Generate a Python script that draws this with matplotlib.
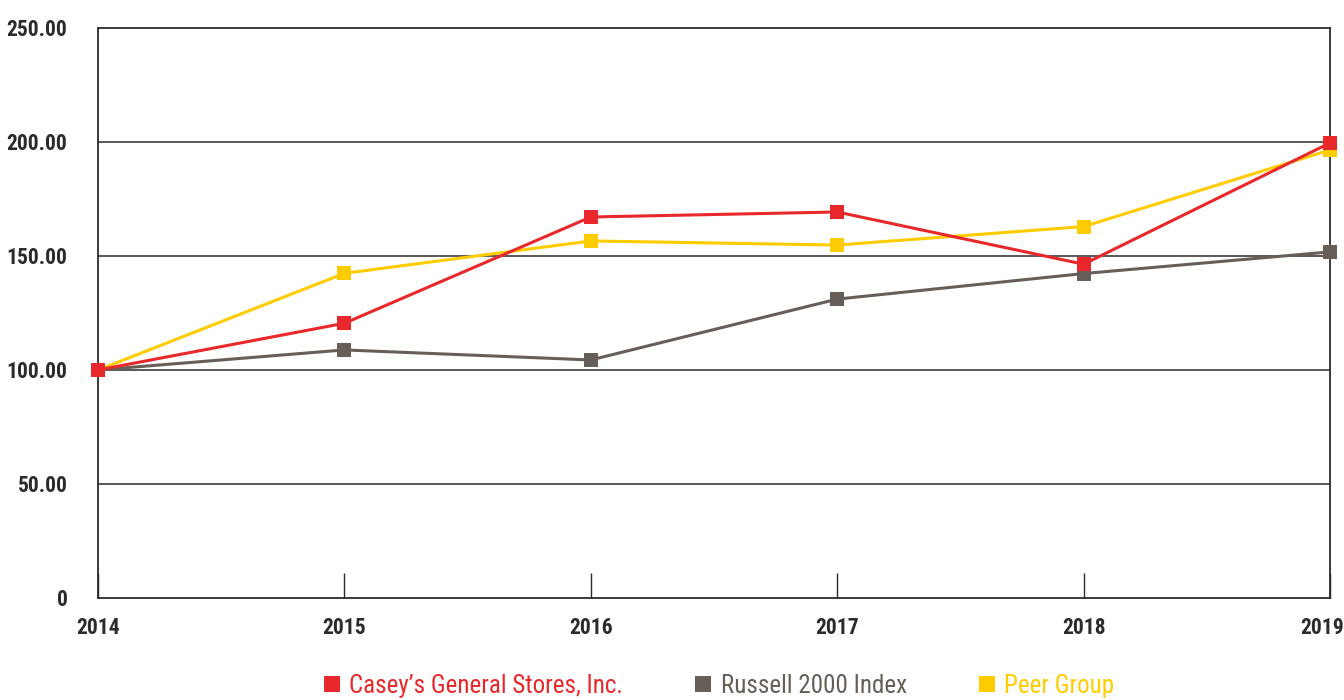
import matplotlib.pyplot as plt
from matplotlib import font_manager
from matplotlib.lines import Line2D
from matplotlib.transforms import ScaledTranslation

years = [2014, 2015, 2016, 2017, 2018, 2019]
caseys = [100.00, 120.5, 167.1, 169.3, 146.4, 199.6]
russell = [100.00, 108.8, 104.4, 131.1, 142.3, 151.8]
peer = [100.00, 142.4, 156.6, 154.8, 162.9, 196.5]

y_ticks = [0, 50, 100, 150, 200, 250]
y_labels = ['0', '50.00', '100.00', '150.00', '200.00', '250.00']

RED = '#E8282B'
GRAY = '#675F57'
YELLOW = '#FFCC00'
DARK = '#2B2B2B'

# prefer a narrow face if one is around
available = {f.name for f in font_manager.fontManager.ttflist}
narrow = [n for n in ('Liberation Sans Narrow', 'Roboto Condensed', 'DejaVu Sans')
          if n in available]
plt.rcParams['font.family'] = narrow
plt.rcParams['font.stretch'] = 'condensed'

fig = plt.figure(figsize=(13.44, 7), dpi=100)
ax = fig.add_axes([98 / 1344, 1 - 598 / 700, (1330 - 98) / 1344, (598 - 28) / 700])

for vals, col, z in [(russell, GRAY, 3), (peer, YELLOW, 4), (caseys, RED, 5)]:
    ax.plot(years, vals, color=col, lw=2.2, marker='s', ms=9.5,
            markeredgewidth=0, zorder=z, clip_on=False)

ax.set_xlim(2014, 2019)
ax.set_ylim(0, 250)

# horizontal rules at each tick
for v in y_ticks[1:-1]:
    ax.axhline(v, color=DARK, lw=1.1, zorder=1)

ax.set_yticks(y_ticks)
ax.set_yticklabels(y_labels, fontsize=15.5, fontweight='bold', color=DARK)
ax.tick_params(axis='y', length=0, pad=22)

ax.set_xticks(years)
ax.set_xticklabels([str(y) for y in years], fontsize=15.5, fontweight='bold', color=DARK)
ax.tick_params(axis='x', direction='in', length=18, width=1, color=DARK, pad=14)

# last year label hangs a little left of the frame edge
last = ax.get_xticklabels()[-1]
last.set_transform(last.get_transform() + ScaledTranslation(-0.08, 0, fig.dpi_scale_trans))

for s in ax.spines.values():
    s.set_color(DARK)
    s.set_linewidth(1.3)

handles = [Line2D([], [], ls='none', marker='s', ms=11, color=c, markeredgewidth=0)
           for c in (RED, GRAY, YELLOW)]
names = ['Casey\u2019s General Stores, Inc.', 'Russell 2000 Index', 'Peer Group']
leg = fig.legend(handles, names, loc='center', bbox_to_anchor=(717 / 1344, 1 - 686 / 700),
                 ncol=3, frameon=False, fontsize=18, handletextpad=0.2,
                 columnspacing=2.7, handlelength=1.0)
for txt, c in zip(leg.get_texts(), (RED, GRAY, YELLOW)):
    txt.set_color(c)

fig.savefig('out.png', dpi=100)
